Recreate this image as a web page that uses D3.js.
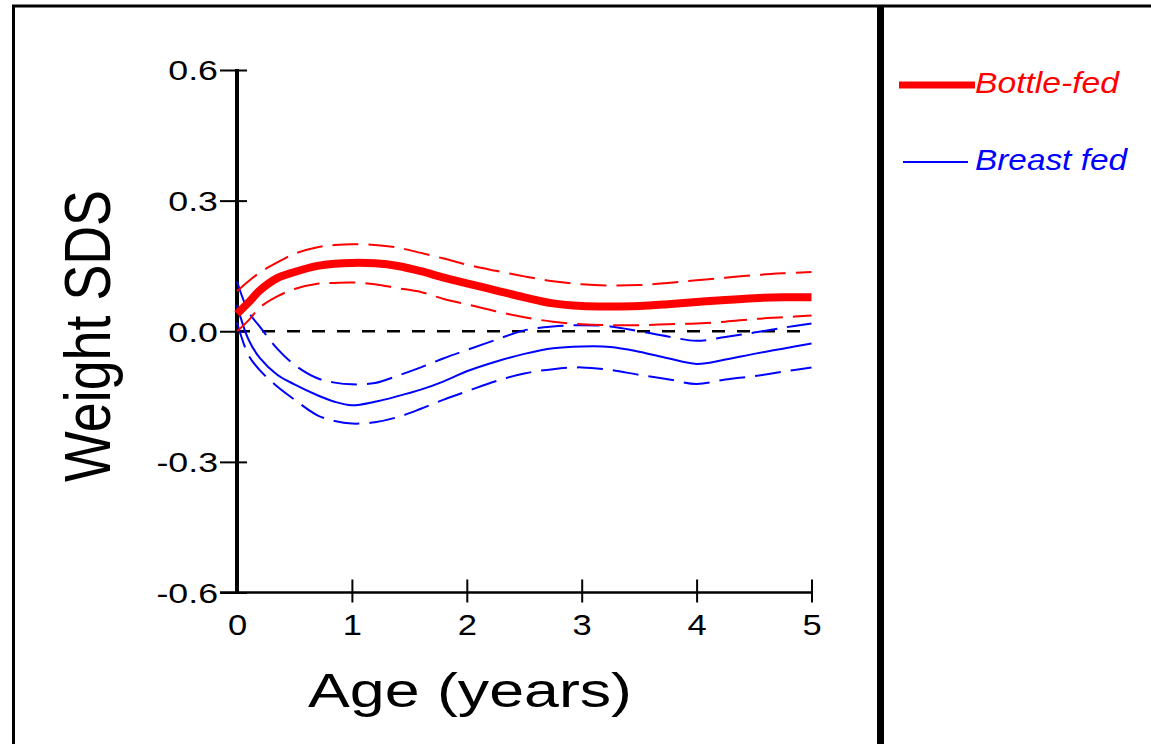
<!DOCTYPE html>
<html>
<head>
<meta charset="utf-8">
<script src="https://cdn.jsdelivr.net/npm/d3@7"></script>
<style>
  html, body { margin: 0; padding: 0; background: #fff; }
  svg { display: block; }
</style>
</head>
<body>
<div id="chart"></div>
<script>
// age grid (years) and values
var ages = [0, 0.1, 0.2, 0.35, 0.5, 0.7, 0.85, 1.0, 1.2, 1.4, 1.6, 1.8, 2.0, 2.25, 2.5, 2.75, 3.0, 3.25, 3.5, 3.75, 4.0, 4.25, 4.5, 4.75, 5.0];

var bottle_mid = [0.04, 0.066, 0.094, 0.122, 0.136, 0.150, 0.155, 0.157, 0.156, 0.150, 0.138, 0.123, 0.110, 0.094, 0.078, 0.064, 0.058, 0.057, 0.058, 0.062, 0.067, 0.072, 0.076, 0.078, 0.078];
var bottle_hi  = [0.092, 0.115, 0.135, 0.158, 0.178, 0.193, 0.198, 0.200, 0.198, 0.192, 0.180, 0.167, 0.153, 0.139, 0.126, 0.115, 0.108, 0.105, 0.106, 0.111, 0.117, 0.123, 0.129, 0.133, 0.136];
var bottle_lo  = [0.0, 0.025, 0.055, 0.080, 0.097, 0.109, 0.111, 0.112, 0.108, 0.099, 0.090, 0.074, 0.062, 0.046, 0.032, 0.022, 0.016, 0.014, 0.014, 0.016, 0.018, 0.022, 0.028, 0.032, 0.036];

var breast_mid = [0.06, -0.019, -0.062, -0.100, -0.122, -0.147, -0.162, -0.170, -0.162, -0.149, -0.134, -0.115, -0.092, -0.070, -0.052, -0.039, -0.035, -0.036, -0.047, -0.062, -0.075, -0.065, -0.052, -0.040, -0.028];
var breast_hi  = [0.115, 0.045, 0.010, -0.040, -0.077, -0.108, -0.118, -0.122, -0.119, -0.102, -0.083, -0.062, -0.043, -0.020, 0.002, 0.011, 0.014, 0.011, 0.0, -0.012, -0.022, -0.013, -0.003, 0.008, 0.018];
var breast_lo  = [0.02, -0.055, -0.090, -0.127, -0.157, -0.193, -0.206, -0.212, -0.209, -0.197, -0.178, -0.157, -0.138, -0.115, -0.097, -0.087, -0.083, -0.089, -0.100, -0.110, -0.121, -0.111, -0.103, -0.093, -0.083];

var x_ticks = [0, 1, 2, 3, 4, 5];
var y_ticks = [-0.6, -0.3, 0.0, 0.3, 0.6];
var legend_labels = ["Bottle-fed", "Breast fed"];

var width = 1151, height = 744;
var font = "'Liberation Sans', Arial, sans-serif";

var svg = d3.select("#chart")
  .append("svg")
  .attr("width", width)
  .attr("height", height);

// frame
svg.append("line").attr("x1", 12).attr("x2", width).attr("y1", 6).attr("y2", 6)
  .attr("stroke", "#000").attr("stroke-width", 3);
svg.append("line").attr("x1", 13.5).attr("x2", 13.5).attr("y1", 5).attr("y2", height)
  .attr("stroke", "#000").attr("stroke-width", 3);
svg.append("line").attr("x1", 880.5).attr("x2", 880.5).attr("y1", 5).attr("y2", height)
  .attr("stroke", "#000").attr("stroke-width", 7);

// scales
var x = d3.scaleLinear().domain([0, 5]).range([237, 811.5]);
var y = d3.scaleLinear().domain([-0.6, 0.6]).range([592.5, 70]);

// Y axis
var yAxis = svg.append("g")
  .attr("transform", "translate(" + x(0) + ",0)")
  .call(d3.axisLeft(y).tickValues(y_ticks).tickSize(17).tickPadding(2)
    .tickFormat(function(d) { return d3.format(".1f")(d).replace("\u2212", "-"); }));
yAxis.select(".domain").remove();
yAxis.selectAll(".tick line").attr("x1", 10).attr("stroke", "#000").attr("stroke-width", 2);
yAxis.selectAll(".tick text")
  .style("font-family", font).style("font-size", "27.5px").attr("fill", "#000")
  .attr("dy", "0.36em")
  .each(function() {
    var len = this.getComputedTextLength();
    d3.select(this).attr("textLength", len * 1.3).attr("lengthAdjust", "spacingAndGlyphs");
  });
svg.append("line")
  .attr("x1", x(0)).attr("x2", x(0)).attr("y1", y(0.6) - 1).attr("y2", y(-0.6) + 1)
  .attr("stroke", "#000").attr("stroke-width", 4);

// X axis
var xAxis = svg.append("g")
  .attr("transform", "translate(0," + y(-0.6) + ")")
  .call(d3.axisBottom(x).tickValues(x_ticks).tickSize(10).tickPadding(11)
    .tickFormat(d3.format("d")));
xAxis.select(".domain").remove();
xAxis.selectAll(".tick line").attr("y1", -13).attr("stroke", "#000").attr("stroke-width", 2);
xAxis.selectAll(".tick").filter(function(d) { return d === 0; }).select("line").remove();
xAxis.selectAll(".tick text")
  .style("font-family", font).style("font-size", "30px").attr("fill", "#000")
  .each(function() {
    var len = this.getComputedTextLength();
    d3.select(this).attr("textLength", len * 1.15).attr("lengthAdjust", "spacingAndGlyphs");
  });
svg.append("line")
  .attr("x1", 220).attr("x2", x(5)).attr("y1", y(-0.6)).attr("y2", y(-0.6))
  .attr("stroke", "#000").attr("stroke-width", 2.5);

// zero reference line
svg.append("line")
  .attr("x1", x(0)).attr("x2", x(5)).attr("y1", y(0)).attr("y2", y(0))
  .attr("stroke", "#000").attr("stroke-width", 2.5)
  .style("stroke-dasharray", "13, 12");

// axis titles
svg.append("text")
  .attr("x", 308).attr("y", 707)
  .attr("font-family", font).attr("font-size", 47.5)
  .attr("textLength", 324).attr("lengthAdjust", "spacingAndGlyphs")
  .text("Age (years)");

svg.append("text")
  .attr("transform", "translate(110,482) rotate(-90)")
  .attr("font-family", font).attr("font-size", 65)
  .attr("textLength", 292).attr("lengthAdjust", "spacingAndGlyphs")
  .text("Weight SDS");

// curves
function series(values) {
  return ages.map(function(a, i) { return { age: a, v: values[i] }; });
}
var line = d3.line()
  .curve(d3.curveCatmullRom.alpha(0.5))
  .x(function(d) { return x(d.age); })
  .y(function(d) { return y(d.v); });

var curves = [
  { data: breast_hi,  color: "#0000ff", w: 2, dash: "26, 10" },
  { data: breast_lo,  color: "#0000ff", w: 2, dash: "26, 10" },
  { data: breast_mid, color: "#0000ff", w: 2, dash: null },
  { data: bottle_hi,  color: "#ff0000", w: 2, dash: "26, 10" },
  { data: bottle_lo,  color: "#ff0000", w: 2, dash: "26, 10" },
  { data: bottle_mid, color: "#ff0000", w: 8, dash: null }
];
curves.forEach(function(c) {
  svg.append("path")
    .datum(series(c.data))
    .attr("fill", "none")
    .attr("stroke", c.color)
    .attr("stroke-width", c.w)
    .style("stroke-dasharray", c.dash)
    .attr("d", line);
});

// legend
var legend = [
  { label: legend_labels[0], color: "#ff0000", w: 7, x1: 899, x2: 975, ly: 85, ty: 93, len: 144 },
  { label: legend_labels[1], color: "#0000ff", w: 2, x1: 903, x2: 968, ly: 162, ty: 170, len: 152 }
];
legend.forEach(function(l) {
  svg.append("line")
    .attr("x1", l.x1).attr("x2", l.x2).attr("y1", l.ly).attr("y2", l.ly)
    .attr("stroke", l.color).attr("stroke-width", l.w);
  svg.append("text")
    .attr("x", 975).attr("y", l.ty)
    .attr("font-family", font).attr("font-size", 30).attr("font-style", "italic")
    .attr("fill", l.color)
    .attr("textLength", l.len).attr("lengthAdjust", "spacingAndGlyphs")
    .text(l.label);
});
</script>
</body>
</html>
